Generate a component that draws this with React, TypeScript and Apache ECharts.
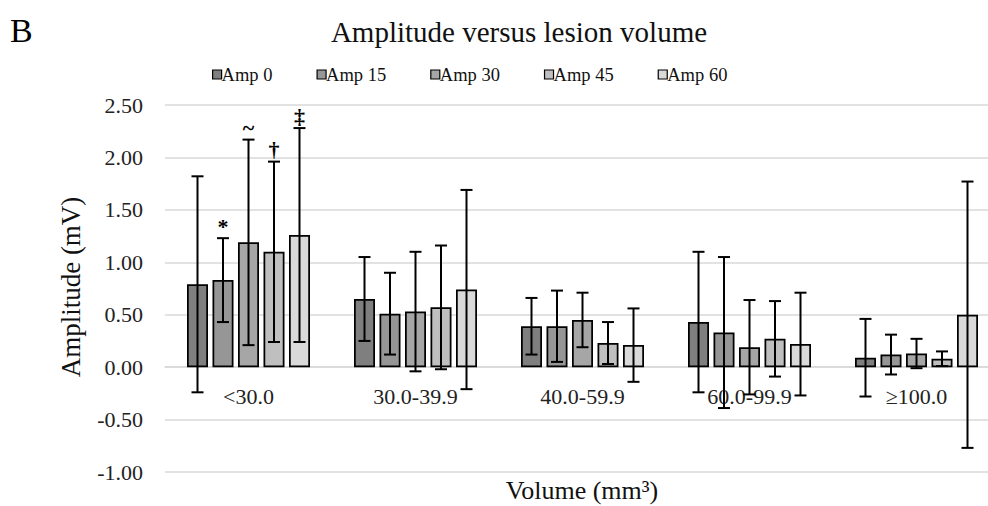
import React, { useEffect, useRef } from "react";
import * as echarts from "echarts";

const categories = ["<30.0", "30.0-39.9", "40.0-59.9", "60.0-99.9", "≥100.0"];
const seriesNames = ["Amp 0", "Amp 15", "Amp 30", "Amp 45", "Amp 60"];
const amp0 = [0.79, 0.65, 0.39, 0.43, 0.09];
const amp15 = [0.83, 0.51, 0.39, 0.33, 0.12];
const amp30 = [1.19, 0.53, 0.45, 0.19, 0.13];
const amp45 = [1.1, 0.57, 0.23, 0.27, 0.08];
const amp60 = [1.26, 0.74, 0.21, 0.22, 0.5];
const sd0 = [1.03, 0.4, 0.27, 0.67, 0.37];
const sd15 = [0.4, 0.39, 0.34, 0.72, 0.19];
const sd30 = [0.98, 0.57, 0.26, 0.45, 0.14];
const sd45 = [0.86, 0.59, 0.2, 0.36, 0.07];
const sd60 = [1.02, 0.95, 0.35, 0.49, 1.27];
const marks0 = ["", "", "", "", ""];
const marks15 = ["*", "", "", "", ""];
const marks30 = ["~", "", "", "", ""];
const marks45 = ["†", "", "", "", ""];
const marks60 = ["‡", "", "", "", ""];
const yTicks = { min: -1, max: 2.5, interval: 0.5 };

const values = [amp0, amp15, amp30, amp45, amp60];
const errors = [sd0, sd15, sd30, sd45, sd60];
const marks = [marks0, marks15, marks30, marks45, marks60];
const colors = ["#7f7f7f", "#969696", "#a6a6a6", "#bfbfbf", "#d9d9d9"];

const FONT = "'Liberation Serif', 'Times New Roman', serif";
const BAR_W = 21;
const GAP = 4.5;
const GRID_TOP = 105;
const GRID_H = 367;

export default function App() {
  const ref = useRef<HTMLDivElement>(null);
  useEffect(() => {
    if (!ref.current) return;
    const chart = echarts.init(ref.current, null, { renderer: "svg" });
    const n = seriesNames.length;
    const total = n * BAR_W + (n - 1) * GAP;
    // distance from the grid bottom (y min) to the zero line
    const zeroOffset = (GRID_H * (0 - yTicks.min)) / (yTicks.max - yTicks.min);

    const barSeries = seriesNames.map((name, i) => ({
      name,
      type: "bar",
      data: values[i],
      barWidth: BAR_W,
      barGap: (GAP / BAR_W) * 100 + "%",
      itemStyle: { color: colors[i], borderColor: "#000", borderWidth: 1.75 },
      z: 2,
    }));

    const errSeries = seriesNames.map((name, i) => ({
      name: name + " error",
      type: "custom",
      z: 5,
      data: categories.map((_, j) => [j, values[i][j], errors[i][j]]),
      encode: { x: 0, y: 1 },
      renderItem: (params: any, api: any) => {
        const j = api.value(0);
        const v = api.value(1);
        const e = api.value(2);
        const off = -total / 2 + i * (BAR_W + GAP) + BAR_W / 2;
        const top = api.coord([j, v + e]);
        const bot = api.coord([j, v - e]);
        const x = top[0] + off;
        const cap = 6;
        const style = { stroke: "#000", lineWidth: 2 };
        const children: any[] = [
          { type: "line", shape: { x1: x, y1: top[1], x2: x, y2: bot[1] }, style },
          { type: "line", shape: { x1: x - cap, y1: top[1], x2: x + cap, y2: top[1] }, style },
          { type: "line", shape: { x1: x - cap, y1: bot[1], x2: x + cap, y2: bot[1] }, style },
        ];
        const m = marks[i][params.dataIndex];
        if (m) {
          children.push({
            type: "text",
            style: {
              text: m,
              x,
              y: top[1] - 12,
              align: "center",
              verticalAlign: "middle",
              fontFamily: FONT,
              fontSize: 22,
              fontWeight: "bold",
              fill: "#000",
            },
          });
        }
        return { type: "group", children };
      },
    }));

    chart.setOption({
      animation: false,
      backgroundColor: "#fff",
      textStyle: { fontFamily: FONT },
      legend: {
        data: seriesNames,
        left: 207,
        top: 60,
        itemWidth: 9,
        itemHeight: 9,
        itemGap: 44,
        icon: "rect",
        itemStyle: { borderColor: "#000", borderWidth: 1.2 },
        textStyle: { fontFamily: FONT, fontSize: 18.5, color: "#111", padding: [0, 0, 0, -5] },
      },
      grid: {
        left: 165,
        top: GRID_TOP,
        width: 835,
        height: GRID_H,
        outerBoundsMode: "none",
        containLabel: false,
      },
      xAxis: {
        type: "category",
        data: categories,
        position: "bottom",
        offset: -zeroOffset,
        axisLine: { show: true, onZero: false, lineStyle: { color: "#d9d9d9", width: 1.5 } },
        axisTick: { show: false },
        axisLabel: { fontFamily: FONT, fontSize: 22, color: "#222", margin: 18 },
        splitLine: { show: false },
      },
      yAxis: {
        type: "value",
        min: yTicks.min,
        max: yTicks.max,
        interval: yTicks.interval,
        axisLine: { show: false },
        axisTick: { show: false },
        axisLabel: {
          fontFamily: FONT,
          fontSize: 22,
          color: "#222",
          margin: 22,
          formatter: (v: number) => v.toFixed(2),
        },
        splitLine: { lineStyle: { color: "#d9d9d9", width: 1.5 } },
      },
      graphic: [
        {
          type: "text",
          left: 10,
          top: 13,
          style: { text: "B", fontFamily: FONT, fontSize: 34, fill: "#000" },
        },
        {
          type: "text",
          x: 519,
          y: 32,
          style: {
            text: "Amplitude versus lesion volume",
            fontFamily: FONT,
            fontSize: 29,
            fill: "#111",
            align: "center",
            verticalAlign: "middle",
          },
        },
        {
          type: "text",
          x: 71,
          y: 287,
          rotation: Math.PI / 2,
          style: {
            text: "Amplitude (mV)",
            fontFamily: FONT,
            fontSize: 27,
            fill: "#111",
            align: "center",
            verticalAlign: "middle",
          },
        },
        {
          type: "text",
          x: 582,
          y: 490,
          style: {
            text: "Volume (mm³)",
            fontFamily: FONT,
            fontSize: 26,
            fill: "#111",
            align: "center",
            verticalAlign: "middle",
          },
        },
      ],
      series: [...barSeries, ...errSeries],
    });
    return () => chart.dispose();
  }, []);
  return (
    <div
      ref={ref}
      style={{ position: "fixed", left: 0, top: 0, width: 988, height: 506 }}
    />
  );
}
